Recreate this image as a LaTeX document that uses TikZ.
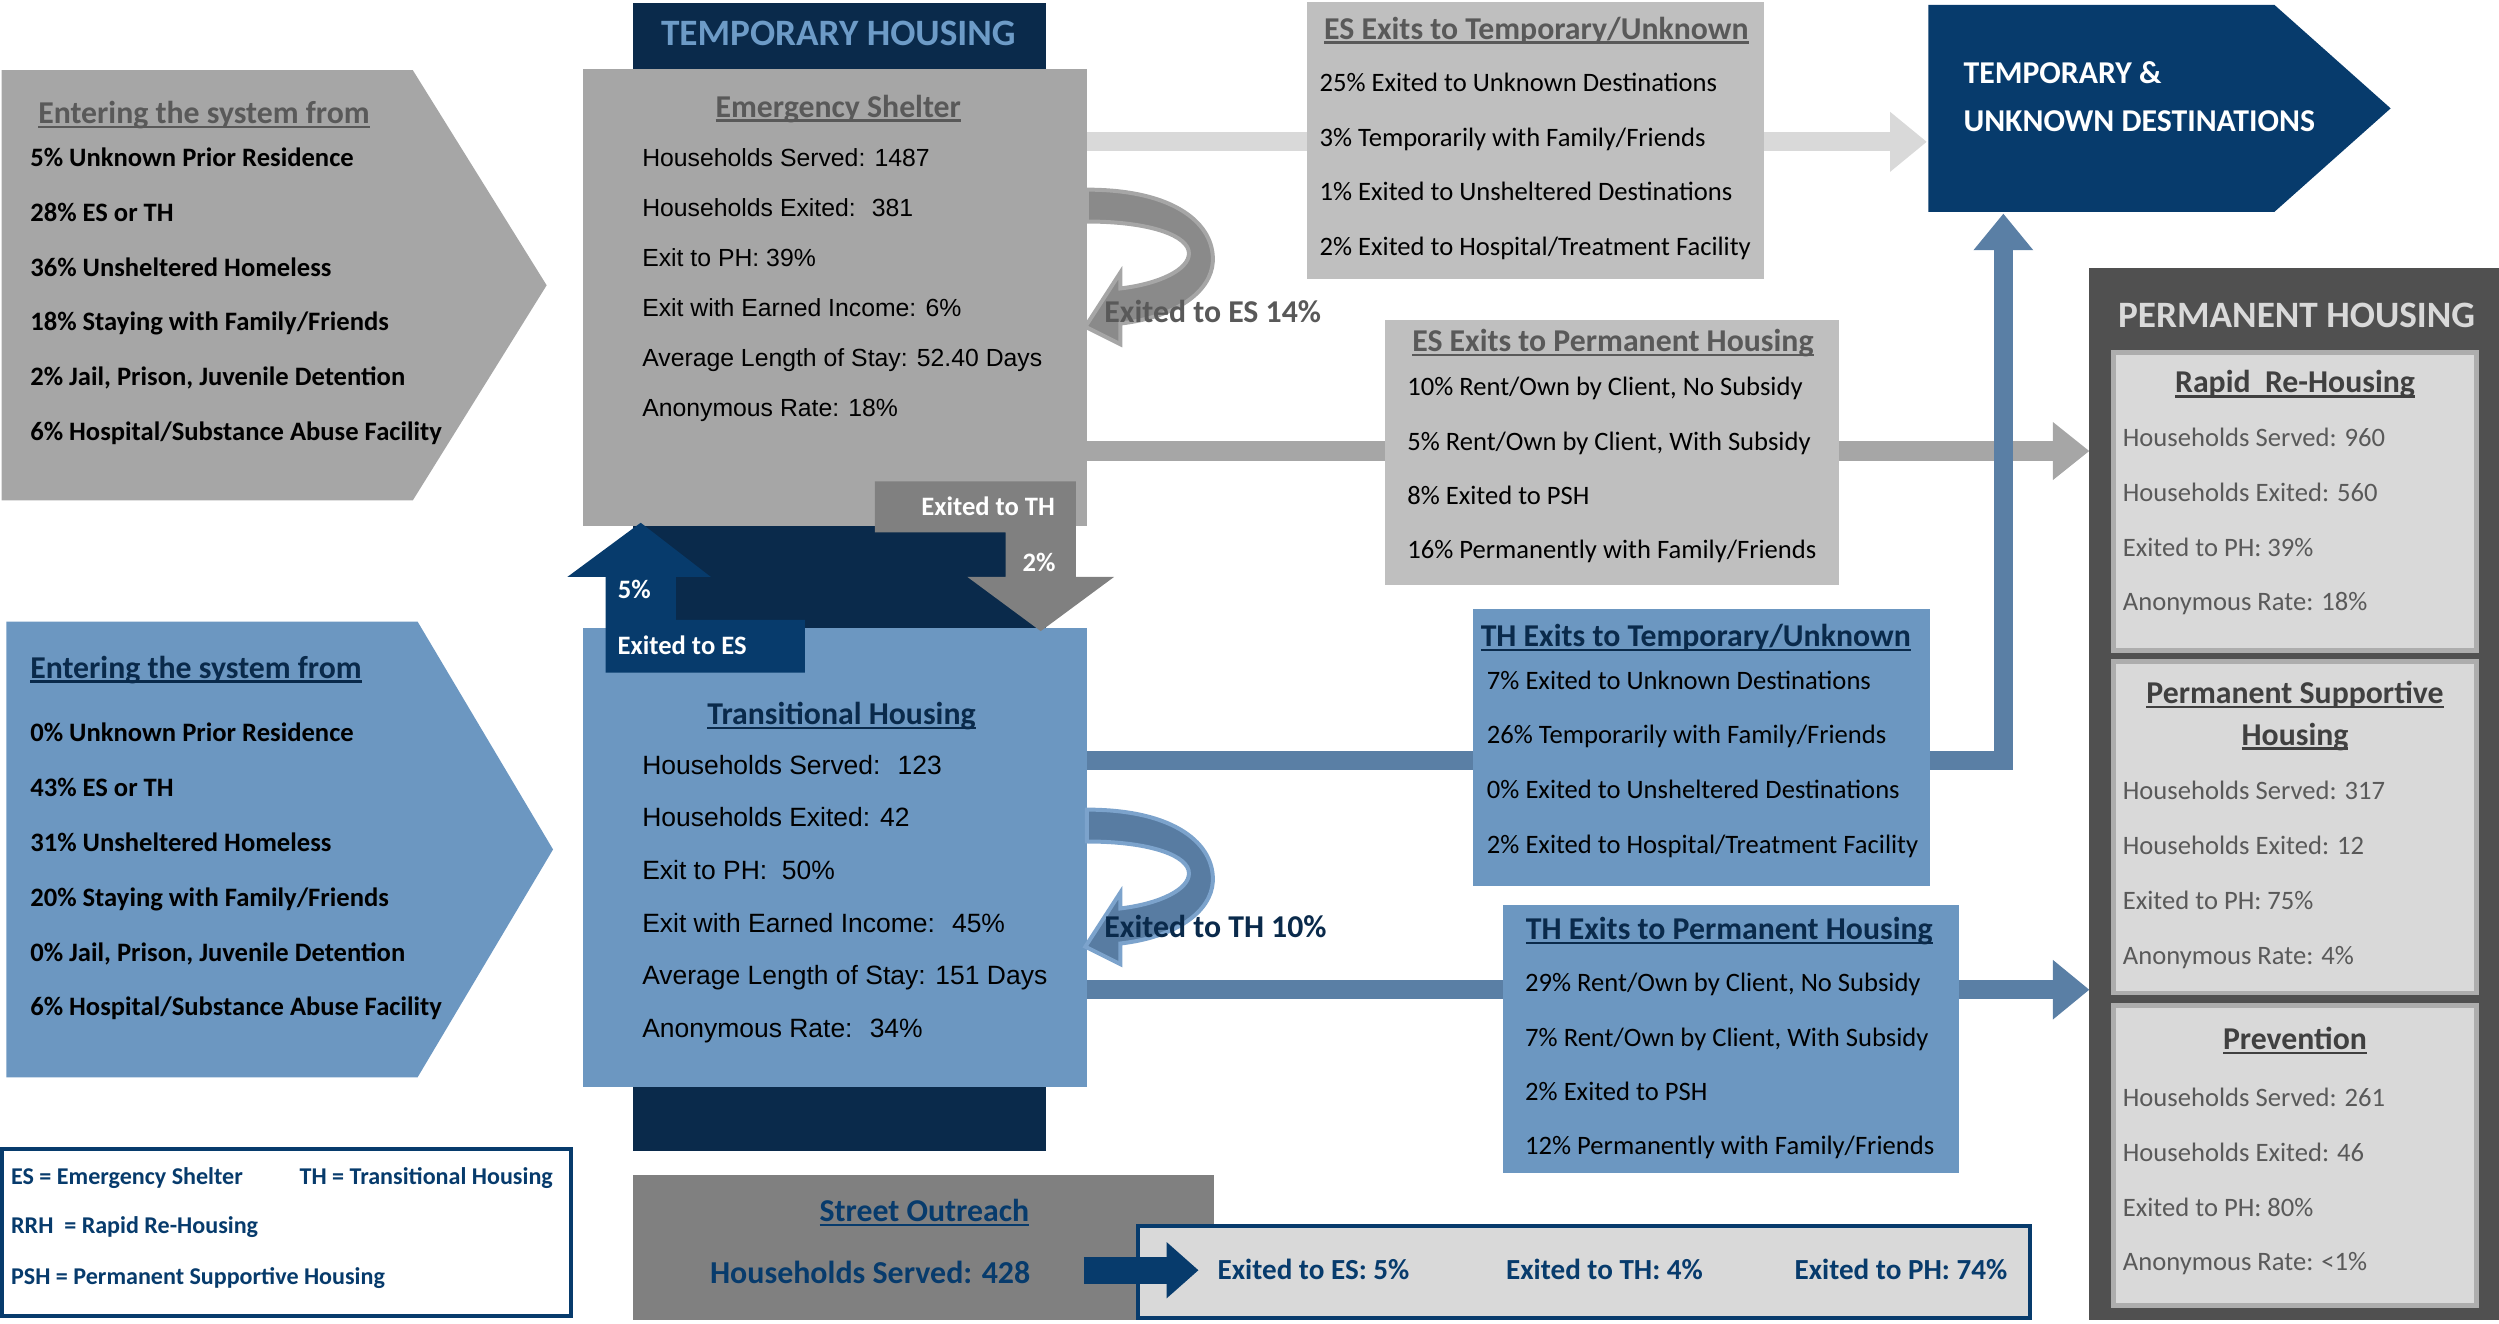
\documentclass[tikz,border=0pt]{standalone}
\usepackage{fontspec}
\setmainfont{Carlito}
\newfontfamily\arialfont{Liberation Sans}
\usetikzlibrary{fit,positioning,arrows.meta}
\pgfdeclarelayer{background}
\pgfsetlayers{background,main}
\newcommand{\uln}[1]{\setbox0\hbox{#1}\rlap{\rule[-1.7pt]{\wd0}{.9pt}}\box0}

\definecolor{esgray}{HTML}{A6A6A6}
\definecolor{exgray}{HTML}{BFBFBF}
\definecolor{bandlight}{HTML}{D9D9D9}
\definecolor{txtgray}{HTML}{595959}
\definecolor{midgray}{HTML}{808080}
\definecolor{loopgray}{HTML}{8A8A8A}
\definecolor{thblue}{HTML}{6C97C1}
\definecolor{bandblue}{HTML}{5A7FA5}
\definecolor{loopblue}{HTML}{587CA2}
\definecolor{rimblue}{HTML}{7CA3CC}
\definecolor{navy}{HTML}{0A2A4B}
\definecolor{dblue}{HTML}{073B6C}
\definecolor{skyblue}{HTML}{6D9BC7}
\definecolor{phgray}{HTML}{505050}
\definecolor{phtext}{HTML}{404040}
\definecolor{boxgray}{HTML}{D9D9D9}
\definecolor{rimgray}{HTML}{ADADAD}

\tikzset{
  every node/.style={inner sep=0pt, outer sep=0pt},
  bigtitle/.style={font=\fontsize{13.3}{16}\selectfont\bfseries, anchor=base},
  boxtitle/.style={font=\fontsize{11.35}{14}\selectfont\bfseries, anchor=base},
  listtext/.style={font=\fontsize{9.5}{12}\selectfont, anchor=base west},
  listbold/.style={font=\fontsize{9.5}{12}\selectfont\bfseries, anchor=base west},
  stattext/.style={font=\arialfont\fontsize{8.85}{11}\selectfont, anchor=base west},
  thstat/.style={font=\arialfont\fontsize{9.45}{11}\selectfont, anchor=base west},
  keytext/.style={font=\fontsize{8.6}{11}\selectfont\bfseries, dblue, anchor=base west},
  flowtext/.style={font=\fontsize{10.4}{12}\selectfont\bfseries, dblue, anchor=base west},
  whitelabel/.style={font=\fontsize{9.5}{12}\selectfont\bfseries, white, anchor=base},
  lightband/.style={draw=bandlight, line width=.24cm, -{Triangle[length=.46cm, width=.72cm]}},
  grayband/.style={draw=esgray, line width=.24cm, -{Triangle[length=.46cm, width=.7cm]}},
  blueband/.style={draw=bandblue, line width=.24cm, -{Triangle[length=.46cm, width=.72cm]}},
  outarrow/.style={draw=dblue, line width=.34cm, -{Triangle[length=.4cm, width=.68cm]}},
  subbox/.style={fill=boxgray, draw=rimgray, line width=.06cm},
  loopribbon/.pic={\path[pic actions] (0,0) .. controls (56,0) and (80,22) .. (79,45)
    .. controls (78,64) and (56,80) .. (21,84) -- (21,97) -- (-1,86) -- (21,52) -- (21,62)
    .. controls (46,59) and (64,50) .. (64,40) .. controls (64,29) and (40,20) .. (0,20) -- cycle;}
}

\begin{document}
\begin{tikzpicture}[x = .02cm, y = -.02cm]
\useasboundingbox (0,0) rectangle (1568,830.7);

% boxes
\node[fill=esgray, fit={(366,43) (682,330)}] (es) {};
\node[fill=thblue, fit={(366,394) (682,682)}] (th) {};
\node[fill=exgray, fit={(820,1) (1107,175)}] (estmp) {};
\node[fill=exgray, fit={(869,201) (1154,367)}] (esperm) {};
\node[fill=thblue, fit={(924,382) (1211,556)}] (thtmp) {};
\node[fill=thblue, fit={(943,568) (1229,736)}] (thperm) {};
\node[fill=phgray, fit={(1311,168) (1568,828)}] (ph) {};
\node[subbox, fit={(1326,221) (1554,408)}] (rrh) {};
\node[subbox, fit={(1326,415) (1554,623)}] (psh) {};
\node[subbox, fit={(1326,631) (1554,819)}] (prev) {};
\node[fill=white, draw=dblue, line width=.05cm, fit={(1,721) (358,826)}] (key) {};
\node[fill=midgray, fit={(397,737) (762,828)}] (so) {};
\node[fill=boxgray, draw=dblue, line width=.05cm, fit={(714,769) (1274,827)}] (soexit) {};

% entering arrows and destination
\fill[esgray] (1,44) -- (259,44) -- (343,179) -- (259,314) -- (1,314) -- cycle;
\fill[thblue] (4,390) -- (262,390) -- (347,533) -- (262,676) -- (4,676) -- cycle;
\fill[dblue] (1210,3) -- (1427,3) -- (1500,68) -- (1427,133) -- (1210,133) -- cycle;

\coordinate (esT) at (682,89);
\coordinate (esP) at (682,283);
\coordinate (thT) at (682,477);
\coordinate (thP) at (682,621);
\coordinate (tduW) at (1209,68);
\coordinate (tduS) at (1257,134);
\coordinate (soA) at (680,797);
\coordinate (soB) at (752,797);

\begin{pgfonlayer}{background}
\fill[navy] (397,2) rectangle (656,722);
\draw[lightband] (esT) -- (esT -| tduW);
\draw[grayband] (esP) -- (esP -| ph.west);
\draw[blueband] (thT) -| (tduS);
\draw[blueband] (thP) -- (thP -| ph.west);
\end{pgfonlayer}

% moves between ES and TH
\fill[dblue] (402,328) -- (446,362) -- (424,362) -- (424,389) -- (505,389) -- (505,422) -- (380,422) -- (380,362) -- (356,362) -- cycle;
\fill[midgray] (549,302) -- (675,302) -- (675,362) -- (699,362) -- (653,396) -- (607,362) -- (631,362) -- (631,334) -- (549,334) -- cycle;
\pic[fill=loopgray, draw=esgray, line width=.05cm] at (682,119) {loopribbon};
\pic[fill=loopblue, draw=rimblue, line width=.05cm] at (682,508) {loopribbon};
\draw[outarrow] (soA) -- (soB);

\node[whitelabel] (toth) at (620,323.4) {Exited to TH};
\node[whitelabel] (tothp) at (652,358.4) {2\%};
\node[whitelabel] (toesp) at (398,375.4) {5\%};
\node[whitelabel] (toes) at (428,410.4) {Exited to ES};
\node[boxtitle, anchor=base west, txtgray] (esloop) at (693,202.5) {Exited to ES 14\%};
\node[boxtitle, anchor=base west, navy] (thloop) at (693,588.5) {Exited to TH 10\%};

% headers
\node[bigtitle, skyblue] (tmptitle) at (526,28.5) {TEMPORARY HOUSING};
\node[bigtitle, text=boxgray] (phtitle) at (1441,205.5) {PERMANENT HOUSING};
\node[boxtitle, anchor=base west, white] (tdu1) at (1232,52.5) {TEMPORARY \&};
\node[boxtitle, anchor=base west, white] (tdu2) at (1232,82.5) {UNKNOWN DESTINATIONS};

% entering the system
\node[boxtitle, anchor=base west, txtgray] (esin) at (24,77.5) {\uln{Entering the system from}};
\foreach \t [count=\i from 0] in {5\% Unknown Prior Residence, 28\% ES or TH, 36\% Unsheltered Homeless,
    18\% Staying with Family/Friends, {2\% Jail, Prison, Juvenile Detention}, 6\% Hospital/Substance Abuse Facility}
  \node[listbold] (esin\i) at (19,{104.4+34.4*\i}) {\t};
\node[boxtitle, anchor=base west, navy] (thin) at (19,425.5) {\uln{Entering the system from}};
\foreach \t [count=\i from 0] in {0\% Unknown Prior Residence, 43\% ES or TH, 31\% Unsheltered Homeless,
    20\% Staying with Family/Friends, {0\% Jail, Prison, Juvenile Detention}, 6\% Hospital/Substance Abuse Facility}
  \node[listbold] (thin\i) at (19,{465.4+34.4*\i}) {\t};

% emergency shelter and transitional housing
\node[boxtitle, txtgray] (estitle) at (526,73.5) {\uln{Emergency Shelter}};
\foreach \t [count=\i from 0] in {Households Served: 1487, Households Exited:~ 381, Exit to PH: 39\%,
    Exit with Earned Income: 6\%, Average Length of Stay: 52.40 Days, Anonymous Rate: 18\%}
  \node[stattext] (es\i) at (403,{104.6+31.4*\i}) {\t};
\node[boxtitle, navy] (thtitle) at (528,454.5) {\uln{Transitional Housing}};
\foreach \t [count=\i from 0] in {Households Served:~ 123, Households Exited: 42, Exit to PH:~ 50\%,
    Exit with Earned Income:~ 45\%, Average Length of Stay: 151 Days, Anonymous Rate:~ 34\%}
  \node[thstat] (th\i) at (403,{485.8+33*\i}) {\t};

% exits
\node[boxtitle, txtgray] (estmptitle) at (964,24.5) {\uln{ES Exits to Temporary/Unknown}};
\foreach \t [count=\i from 0] in {25\% Exited to Unknown Destinations, 3\% Temporarily with Family/Friends,
    1\% Exited to Unsheltered Destinations, 2\% Exited to Hospital/Treatment Facility}
  \node[listtext] (estmp\i) at (828,{57.4+34.3*\i}) {\t};
\node[boxtitle, txtgray] (espermtitle) at (1012,220.5) {\uln{ES Exits to Permanent Housing}};
\foreach \t [count=\i from 0] in {{10\% Rent/Own by Client, No Subsidy}, {5\% Rent/Own by Client, With Subsidy},
    8\% Exited to PSH, 16\% Permanently with Family/Friends}
  \node[listtext] (esperm\i) at (883,{248.4+34*\i}) {\t};
\node[boxtitle, navy] (thtmptitle) at (1064,405.5) {\uln{TH Exits to Temporary/Unknown}};
\foreach \t [count=\i from 0] in {7\% Exited to Unknown Destinations, 26\% Temporarily with Family/Friends,
    0\% Exited to Unsheltered Destinations, 2\% Exited to Hospital/Treatment Facility}
  \node[listtext] (thtmp\i) at (933,{432.4+34.3*\i}) {\t};
\node[boxtitle, navy] (thpermtitle) at (1085,589.5) {\uln{TH Exits to Permanent Housing}};
\foreach \t [count=\i from 0] in {{29\% Rent/Own by Client, No Subsidy}, {7\% Rent/Own by Client, With Subsidy},
    2\% Exited to PSH, 12\% Permanently with Family/Friends}
  \node[listtext] (thperm\i) at (957,{622.4+34*\i}) {\t};

% permanent housing
\node[boxtitle, phtext] (rrhtitle) at (1440,246.5) {\uln{Rapid~ Re-Housing}};
\foreach \t [count=\i from 0] in {Households Served: 960, Households Exited: 560, Exited to PH: 39\%, Anonymous Rate: 18\%}
  \node[listtext, txtgray] (rrh\i) at (1332,{280.4+34.3*\i}) {\t};
\node[boxtitle, phtext] (pshtitle) at (1440,441.5) {\uln{Permanent Supportive}};
\node[boxtitle, phtext] (pshtitleb) at (1440,467.5) {\uln{Housing}};
\foreach \t [count=\i from 0] in {Households Served: 317, Households Exited: 12, Exited to PH: 75\%, Anonymous Rate: 4\%}
  \node[listtext, txtgray] (psh\i) at (1332,{501.4+34.6*\i}) {\t};
\node[boxtitle, phtext] (prevtitle) at (1440,658.5) {\uln{Prevention}};
\foreach \t [count=\i from 0] in {Households Served: 261, Households Exited: 46, Exited to PH: 80\%, Anonymous Rate: <1\%}
  \node[listtext, txtgray] (prev\i) at (1332,{694.4+34.3*\i}) {\t};

% key and street outreach
\node[keytext] (keyes) at (7,743) {ES = Emergency Shelter};
\node[keytext] (keyth) at (188,743) {TH = Transitional Housing};
\node[keytext] (keyrrh) at (7,774) {RRH~ = Rapid Re-Housing};
\node[keytext] (keypsh) at (7,806) {PSH = Permanent Supportive Housing};
\node[boxtitle, dblue] (sotitle) at (580,766.5) {\uln{Street Outreach}};
\node[font=\fontsize{11.4}{14}\selectfont\bfseries, dblue, anchor=base] (soserved) at (546,805.5) {Households Served: 428};
\node[flowtext] (soes) at (764,803) {Exited to ES: 5\%};
\node[flowtext] (soth) at (945,803) {Exited to TH: 4\%};
\node[flowtext] (soph) at (1126,803) {Exited to PH: 74\%};
\end{tikzpicture}
\end{document}
